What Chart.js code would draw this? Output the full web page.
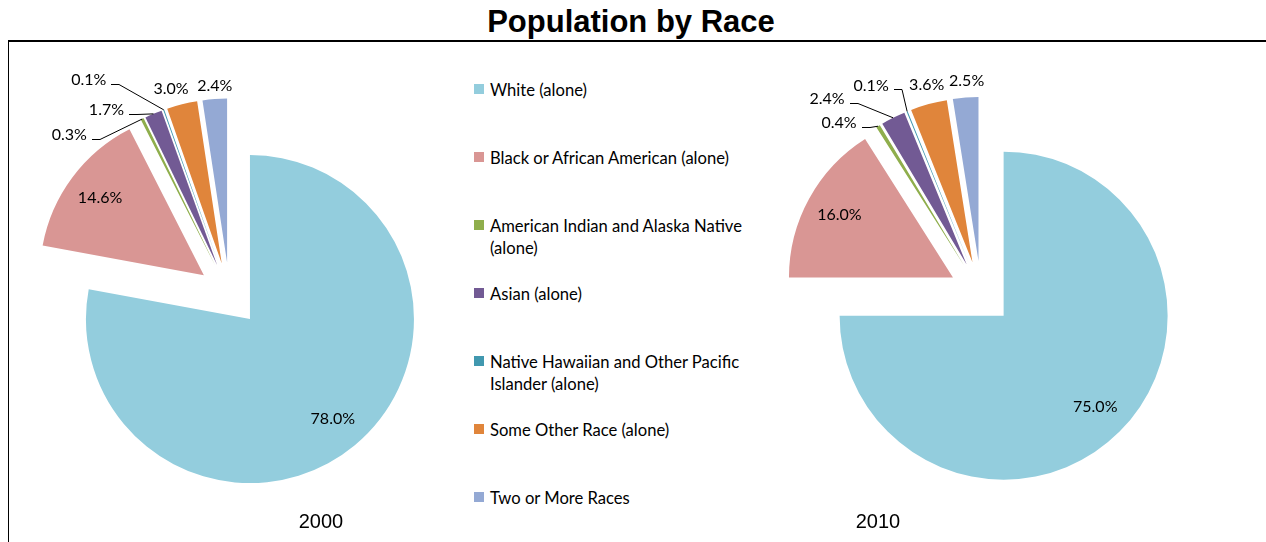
<!DOCTYPE html>
<html>
<head>
<meta charset="utf-8">
<script src="https://cdn.jsdelivr.net/npm/chart.js@4"></script>
<style>
  body { margin: 0; background: #fff; }
  #page { position: relative; width: 1266px; height: 542px; overflow: hidden; font-family: Lato, sans-serif; color: #000; }
  #title { position: absolute; left: 0; width: 1262px; top: 6px; text-align: center; font: bold 31px/31px "Liberation Sans", Arial, sans-serif; }
  #frame { position: absolute; left: 8px; top: 40px; right: -2px; bottom: -2px; border-top: 2px solid #000; border-left: 1px solid #000; }
  canvas { position: absolute; }
  #c2000 { left: 0; top: 44px; }
  #c2010 { left: 751px; top: 44px; }
  .year { position: absolute; top: 511px; width: 100px; text-align: center; font: 20px/20px "Liberation Sans", Arial, sans-serif; }
  #legend { position: absolute; left: 474px; top: 0; }
  .box { position: absolute; left: 0; width: 10px; height: 10px; }
  .txt { position: absolute; left: 16px; white-space: nowrap; font-size: 16.6px; line-height: 22px; }
</style>
</head>
<body>
<div id="page">
  <div id="frame"></div>
  <div id="title">Population by Race</div>
  <canvas id="c2000" width="459" height="501"></canvas>
  <canvas id="c2010" width="460" height="498"></canvas>
  <div id="legend"></div>
  <div class="year" style="left:271px">2000</div>
  <div class="year" style="left:828px">2010</div>
</div>
<script>
var races = ['White (alone)', 'Black or African American (alone)', ['American Indian and Alaska Native', '(alone)'],
  'Asian (alone)', ['Native Hawaiian  and Other Pacific', 'Islander (alone)'], 'Some Other Race (alone)', 'Two or More Races'];
var pct2000 = [78.0, 14.6, 0.3, 1.7, 0.1, 3.0, 2.4];
var pct2010 = [75.0, 16.0, 0.4, 2.4, 0.1, 3.6, 2.5];
var colors = ['#93cddd', '#d99694', '#8fae4c', '#725a94', '#4198af', '#e0853b', '#94a9d4'];

// every slice pulled out from the centre (like excel's "explosion")
var explodePlugin = {
  id: 'explode',
  beforeDatasetDraw: function(chart, args, opts) {
    var ctx = chart.ctx;
    args.meta.data.forEach(function(arc) {
      var mid = (arc.startAngle + arc.endAngle) / 2;
      ctx.save();
      ctx.translate(Math.cos(mid) * opts.distance, Math.sin(mid) * opts.distance);
      arc.draw(ctx);
      ctx.restore();
    });
    return false;
  }
};

// percent labels, inside big slices, outside (with leader line) for small ones
var labelPlugin = {
  id: 'sliceLabels',
  afterDraw: function(chart, args, opts) {
    var ctx = chart.ctx;
    var meta = chart.getDatasetMeta(0);
    var values = chart.data.datasets[0].data;
    var e = chart.options.plugins.explode.distance;
    ctx.save();
    ctx.font = '16px Lato';
    ctx.fillStyle = '#000';
    ctx.strokeStyle = '#000';
    ctx.lineWidth = 1;
    ctx.textAlign = 'center';
    ctx.textBaseline = 'middle';
    meta.data.forEach(function(arc, i) {
      var mid = (arc.startAngle + arc.endAngle) / 2;
      var dx = Math.cos(mid), dy = Math.sin(mid);
      var R = arc.outerRadius;
      var text = values[i].toFixed(1) + '%';
      var place = opts.outside[i];
      if (!place) {
        ctx.fillText(text, arc.x + dx * (e + R * 0.79), arc.y + dy * (e + R * 0.79));
        return;
      }
      var ax = arc.x + dx * (e + R), ay = arc.y + dy * (e + R);
      var tx = ax + place[0], ty = ay + place[1];
      ctx.fillText(text, tx, ty);
      if (place[2]) {
        var right = Math.round(tx + ctx.measureText(text).width / 2);
        var ly = Math.round(ty + 4) + 0.5;
        ctx.beginPath();
        ctx.moveTo(right + 5, ly);
        ctx.lineTo(right + 13, ly);
        ctx.lineTo(ax, ay);
        ctx.stroke();
      }
    });
    ctx.restore();
  }
};

function makePie(id, values, outside) {
  return new Chart(document.getElementById(id), {
    type: 'pie',
    data: {
      labels: races,
      datasets: [{ data: values, backgroundColor: colors, borderWidth: 0, radius: 164 }]
    },
    options: {
      responsive: false,
      animation: false,
      devicePixelRatio: 1,
      events: [],
      layout: { padding: 0 },
      plugins: {
        legend: { display: false },
        tooltip: { enabled: false },
        explode: { distance: 32 },
        sliceLabels: { outside: outside }
      }
    },
    plugins: [explodePlugin, labelPlugin]
  });
}

makePie('c2000', pct2000, [null, null, [-73, 16, true], [-47, -4, true], [-75, -30, true], [-11, -15], [0, -13]]);
makePie('c2010', pct2010, [null, null, [-39, -3, true], [-66, -19, true], [-36, -26, true], [-2, -19], [1, -17]]);

// legend
var legend = document.getElementById('legend');
races.forEach(function(label, i) {
  var top = 84 + i * 68;
  var box = document.createElement('div');
  box.className = 'box';
  box.style.top = top + 'px';
  box.style.background = colors[i];
  var txt = document.createElement('div');
  txt.className = 'txt';
  txt.style.top = (top - 5) + 'px';
  var lines = Array.isArray(label) ? label : [label];
  lines.forEach(function(l, j) {
    if (j) txt.appendChild(document.createElement('br'));
    txt.appendChild(document.createTextNode(l));
  });
  legend.appendChild(box);
  legend.appendChild(txt);
});
</script>
</body>
</html>
